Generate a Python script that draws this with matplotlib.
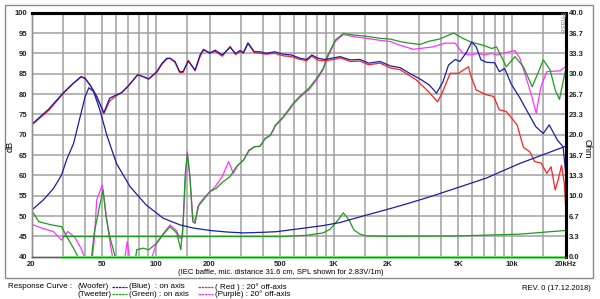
import numpy as np
import matplotlib.pyplot as plt
from matplotlib.patches import Rectangle

plt.rcParams['font.family'] = ['Liberation Sans', 'DejaVu Sans']

# woofer on axis (blue), SPL dB
woofer_on_f = [20, 25, 30, 34, 38, 40, 43, 46.5, 51, 55, 60, 64, 70, 79, 85, 91, 101, 108,
               115, 120, 128, 136, 142, 152, 166, 177, 185, 201, 215, 236, 261, 280, 297,
               310, 329, 357, 384, 418, 465, 518, 577, 645, 704, 751, 814, 890, 1000, 1082,
               1236, 1401, 1566, 1816, 2080, 2352, 2660, 3046, 3440, 3770, 4100, 4400, 4800,
               5100, 5550, 5950, 6300, 6700, 7200, 8000, 8500, 9100, 9900, 11100, 12000,
               13600, 15000, 16200, 18000, 19400, 20000]
woofer_on_db = [72.5, 76.3, 80.2, 82.5, 84.3, 83.9, 82.0, 79.3, 75.4, 79.0, 79.8, 80.3, 82.0,
                84.7, 84.3, 83.7, 85.5, 87.5, 88.8, 88.8, 88.0, 85.5, 85.5, 88.1, 85.9, 89.6,
                91.0, 90.0, 90.8, 89.6, 91.5, 90.0, 90.7, 90.2, 92.6, 90.4, 90.4, 90.0, 90.4,
                89.8, 89.6, 88.8, 88.5, 89.6, 88.8, 88.5, 88.9, 89.2, 88.4, 88.5, 87.6, 88.0,
                86.9, 86.5, 85.1, 83.7, 82.2, 80.2, 83.0, 87.1, 88.5, 88.0, 90.2, 92.8, 91.6,
                88.4, 87.8, 87.7, 85.5, 86.3, 82.5, 79.0, 76.3, 72.0, 70.3, 72.4, 68.7, 67.0,
                61.0]

# woofer 20 deg off axis (red)
woofer_off_f = [20, 25, 30, 34, 38, 40, 43, 46.5, 51, 55, 60, 64, 70, 79, 85, 91, 101, 108,
                115, 120, 128, 136, 142, 152, 166, 177, 185, 201, 215, 236, 261, 280, 297,
                310, 329, 357, 384, 418, 465, 518, 577, 645, 704, 751, 814, 890, 1000, 1082,
                1236, 1401, 1566, 1816, 2080, 2352, 2900, 3400, 3820, 4050, 4500, 5000, 5700,
                5900, 6300, 7200, 7900, 8500, 9300, 10700, 11600, 12600, 13400, 14600, 15700,
                16600, 17500, 18200, 19000, 19700, 20000]
woofer_off_db = [72.3, 76.0, 80.0, 82.4, 84.2, 83.8, 82.0, 79.5, 75.2, 78.3, 79.6, 80.3, 82.0,
                 84.8, 84.2, 83.7, 85.3, 87.3, 88.6, 88.8, 87.8, 85.3, 85.3, 88.3, 85.7, 89.2,
                 90.8, 90.2, 90.5, 89.3, 91.7, 89.7, 90.5, 90.0, 92.4, 90.2, 90.0, 89.8, 90.0,
                 89.4, 89.2, 88.5, 88.2, 89.3, 88.3, 88.2, 88.5, 88.9, 88.0, 88.1, 87.2, 87.6,
                 86.4, 86.0, 83.5, 80.6, 78.1, 80.2, 85.1, 85.1, 86.7, 84.3, 81.0, 79.8, 79.4,
                 76.1, 75.7, 72.4, 66.9, 65.8, 63.4, 63.0, 60.5, 62.1, 56.4, 58.9, 62.5, 58.0,
                 53.0]

# tweeter on axis (green)
tweeter_on_f = [20, 22, 26, 29.5, 31.5, 34, 37, 40, 43, 45, 48, 50.5, 52.5, 55, 59, 62, 70,
                76, 78, 85, 91, 101, 110, 120, 131, 138, 142, 146, 150, 155, 161, 166, 172,
                185, 201, 218, 238, 261, 283, 311, 333, 359, 384, 411, 440, 470, 510, 555,
                590, 645, 722, 802, 870, 925, 1020, 1130, 1300, 1470, 1816, 2080, 2352, 2660,
                3046, 3440, 3900, 4700, 5300, 5800, 6200, 6900, 7700, 8200, 9300, 10400,
                11600, 13000, 14000, 15000, 16400, 17500, 18500, 19300, 20000]
tweeter_on_db = [51.4, 48.6, 47.8, 47.4, 45.0, 42.5, 39.5, 36.0, 38.0, 45.8, 52.0, 56.4, 49.8,
                 45.0, 40.0, 36.0, 34.0, 38.0, 41.7, 42.1, 41.7, 43.3, 45.5, 47.4, 45.8, 41.7,
                 48.0, 60.0, 65.4, 60.0, 48.6, 48.2, 52.3, 54.0, 56.0, 56.8, 58.4, 59.7, 62.1,
                 63.8, 66.2, 67.1, 67.1, 69.1, 69.9, 72.4, 74.0, 76.1, 77.7, 79.5, 81.4, 83.9,
                 86.3, 89.6, 93.3, 94.9, 94.5, 94.3, 93.7, 93.5, 92.9, 92.5, 92.2, 93.0, 93.5,
                 95.0, 93.7, 92.9, 92.5, 92.0, 91.2, 91.6, 86.7, 89.2, 86.7, 81.8, 85.1, 88.4,
                 85.9, 81.0, 78.7, 82.6, 85.9]

# tweeter 20 deg off axis (purple)
tweeter_off_f = [20, 23, 26.5, 29.5, 32, 35, 38, 40, 43, 45, 46.5, 50, 52.5, 55, 57, 62, 66,
                 69, 72, 78, 90, 97, 101, 110, 120, 130, 137, 141, 146, 150, 155, 161, 166,
                 175, 189, 215, 236, 256, 272, 290, 311, 333, 359, 384, 411, 440, 470, 510,
                 555, 590, 645, 722, 802, 870, 925, 1020, 1130, 1300, 1470, 1816, 2080, 2352,
                 2800, 3046, 3600, 4200, 4800, 5300, 5800, 6500, 7000, 7700, 8200, 8900,
                 10400, 11100, 12300, 13000, 13700, 14300, 14600, 15700, 17000, 18600, 20000]
tweeter_off_db = [48.0, 47.0, 46.2, 44.1, 46.2, 44.8, 42.0, 39.5, 36.0, 44.0, 54.0, 57.6, 50.2,
                  44.0, 40.0, 36.0, 38.0, 43.7, 38.0, 35.0, 37.0, 41.0, 43.5, 45.7, 47.8, 46.5,
                  44.5, 44.8, 58.0, 65.8, 60.0, 50.0, 48.5, 53.0, 54.8, 57.2, 59.7, 63.4, 60.5,
                  62.6, 63.8, 66.0, 67.0, 67.2, 69.0, 69.8, 72.2, 73.8, 75.8, 77.4, 79.2, 81.0,
                  83.5, 86.0, 89.2, 93.0, 94.6, 94.1, 93.8, 93.2, 92.9, 92.0, 91.0, 91.2, 91.6,
                  92.5, 92.5, 90.0, 89.6, 90.0, 89.6, 90.0, 89.6, 90.0, 90.7, 88.7, 82.6, 79.0,
                  75.3, 80.0, 82.0, 85.5, 85.6, 85.7, 86.7]

# impedance, Ohm
woofer_z_f = [20, 23.3, 26.6, 29.5, 31.5, 34.5, 37.5, 40, 42, 44.6, 48.5, 53, 60, 71.5, 88,
              110, 137, 162, 201, 250, 311, 400, 475, 645, 870, 1080, 1470, 2080, 2660, 3440,
              4700, 7200, 11100, 20000]
woofer_z = [7.6, 9.3, 11.2, 13.4, 15.9, 18.6, 22.9, 26.2, 27.7, 27.1, 24.0, 19.9, 15.3, 11.5,
            8.5, 6.3, 5.2, 4.7, 4.3, 4.05, 3.9, 4.0, 4.1, 4.6, 5.1, 5.6, 6.7, 7.9, 8.8, 9.8,
            11.1, 12.9, 15.3, 18.1]
tweeter_z_f = [30, 500, 700, 870, 950, 1000, 1080, 1130, 1216, 1295, 1400, 1530, 2000, 5000,
               11100, 20000]
tweeter_z = [3.3, 3.3, 3.5, 3.9, 4.5, 5.2, 6.4, 7.2, 6.0, 4.4, 3.7, 3.4, 3.35, 3.4, 3.7, 4.3]
phase_f = [30, 20000]
phase_z = [0.0, 0.0]

grid_f = [30, 40, 50, 60, 70, 80, 90, 100, 150, 200, 300, 400, 500, 600, 700, 800, 900,
          1000, 1500, 2000, 3000, 4000, 5000, 6000, 7000, 8000, 9000, 10000, 15000]
xtick_f = [20, 50, 100, 200, 500, 1000, 2000, 5000, 10000, 20000]
xtick_lab = ['20', '50', '100', '200', '500', '1K', '2K', '5K', '10k', '20kHz']

W, H = 600, 299


def fpos(x, y):
    return x / W, 1 - y / H


fig = plt.figure(figsize=(6, 2.99), dpi=100)
fig.patches.append(Rectangle(fpos(5, 278), 588 / W, 273 / H, transform=fig.transFigure,
                             fill=False, edgecolor='#8a8a8a', lw=1))

ax = fig.add_axes([31.5 / W, 1 - 256.7 / H, 534 / W, 244 / H])
ax.set_xscale('log')
ax.set_xlim(20, 20000)
ax.set_ylim(40, 100)
for f in grid_f:
    ax.axvline(f, color='#a0a0a0', lw=1.1, zorder=0)
for d in range(45, 100, 5):
    ax.axhline(d, color='#a0a0a0', lw=1.1, zorder=0)

ax.plot(tweeter_off_f, tweeter_off_db, color='#ff33ff', lw=0.9)
ax.plot(tweeter_on_f, tweeter_on_db, color='#1f9a1f', lw=0.9)
ax.plot(woofer_off_f, woofer_off_db, color='#ff2020', lw=0.9)
ax.plot(woofer_on_f, woofer_on_db, color='#1c1ca8', lw=0.9)

ax.set_xticks(xtick_f)
ax.set_xticklabels(xtick_lab)
ax.xaxis.set_minor_locator(plt.NullLocator())
ax.set_yticks(range(40, 101, 5))
ax.tick_params(length=0, labelsize=5.5, colors='#222222', pad=3)
for lab in ax.get_xticklabels() + ax.get_yticklabels():
    lab.set_fontweight('bold')

ax2 = ax.twinx()
ax2.set_ylim(0, 40)
ax2.plot(phase_f, phase_z, color='#7dff7d', lw=2.2, clip_on=False)
ax2.plot(tweeter_z_f, tweeter_z, color='#1f9a1f', lw=0.9)
ax2.plot(woofer_z_f, woofer_z, color='#1c1ca8', lw=0.9)
ax2.set_yticks(np.linspace(0, 40, 13))
ax2.set_yticklabels(['%.1f' % v for v in np.linspace(0, 40, 13)])
ax2.tick_params(length=0, labelsize=5.5, colors='#222222', pad=2.5)
for lab in ax2.get_yticklabels():
    lab.set_fontweight('bold')

for a in (ax, ax2):
    a.spines['top'].set_color('black')
    a.spines['top'].set_linewidth(2.2)
    a.spines['right'].set_color('black')
    a.spines['right'].set_linewidth(2.2)
    a.spines['left'].set_color('#909090')
    a.spines['left'].set_linewidth(1)
    a.spines['bottom'].set_color('#606060')
    a.spines['bottom'].set_linewidth(1)

fig.text(*fpos(10, 146), 'dB', rotation=90, fontsize=6.5, ha='center', va='center')
fig.text(*fpos(587, 149), 'Ohm', rotation=270, fontsize=6.5, ha='center', va='center')
fig.text(*fpos(561, 12), 'Phase', rotation=270, fontsize=5.5, color='#8a8a8a',
         ha='center', va='top')
fig.text(*fpos(281, 272), '(IEC baffle, mic. distance 31.6 cm, SPL shown for 2.83V/1m)',
         fontsize=5.5, ha='center', va='center')

fs = 5.8
fig.text(*fpos(8, 287), 'Response Curve :', fontsize=fs, va='center')
fig.text(*fpos(77, 287), '(Woofer)', fontsize=fs, va='center')
fig.text(*fpos(77, 294), '(Tweeter)', fontsize=fs, va='center')
legend_rows = [(112, 287, '#1c1ca8', '(Blue)  : on axis'),
               (198, 287, '#ff2020', '( Red ) : 20° off-axis'),
               (112, 294, '#1f9a1f', '(Green) : on axis'),
               (198, 294, '#ff33ff', '(Purple) : 20° off-axis')]
for x0, y0, col, txt in legend_rows:
    fig.lines.append(plt.Line2D([x0 / W, (x0 + 15) / W], [1 - y0 / H] * 2,
                                transform=fig.transFigure, color=col, lw=0.9, ls='--',
                                dashes=(2, 0.6)))
    fig.text(*fpos(x0 + 17, y0), txt, fontsize=fs, va='center')
fig.text(*fpos(591, 289), 'REV. 0 (17.12.2018)', fontsize=5.5, ha='right', va='center')

fig.savefig('out.png', dpi=100)
